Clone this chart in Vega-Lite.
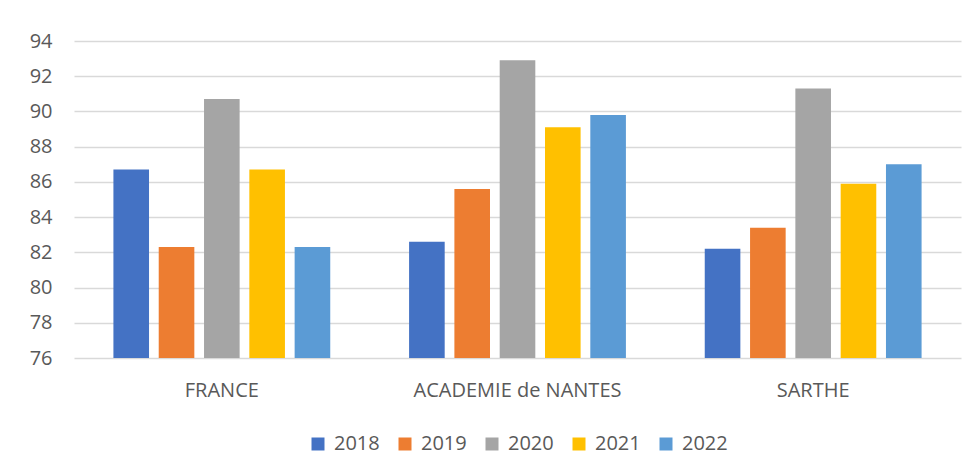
{
  "$schema": "https://vega.github.io/schema/vega-lite/v6.json",
  "width": 887,
  "height": 317,
  "autosize": {"type": "none"},
  "padding": {"left": 74, "top": 41, "right": 15, "bottom": 115},
  "background": "white",
  "data": {
    "values": [
      {"region": "FRANCE", "year": "2018", "value": 86.7},
      {"region": "FRANCE", "year": "2019", "value": 82.3},
      {"region": "FRANCE", "year": "2020", "value": 90.7},
      {"region": "FRANCE", "year": "2021", "value": 86.7},
      {"region": "FRANCE", "year": "2022", "value": 82.3},
      {"region": "ACADEMIE de NANTES", "year": "2018", "value": 82.6},
      {"region": "ACADEMIE de NANTES", "year": "2019", "value": 85.6},
      {"region": "ACADEMIE de NANTES", "year": "2020", "value": 92.9},
      {"region": "ACADEMIE de NANTES", "year": "2021", "value": 89.1},
      {"region": "ACADEMIE de NANTES", "year": "2022", "value": 89.8},
      {"region": "SARTHE", "year": "2018", "value": 82.2},
      {"region": "SARTHE", "year": "2019", "value": 83.4},
      {"region": "SARTHE", "year": "2020", "value": 91.3},
      {"region": "SARTHE", "year": "2021", "value": 85.9},
      {"region": "SARTHE", "year": "2022", "value": 87.0}
    ]
  },
  "mark": {"type": "bar"},
  "encoding": {
    "x": {
      "field": "region",
      "type": "nominal",
      "sort": ["FRANCE", "ACADEMIE de NANTES", "SARTHE"],
      "scale": {"paddingInner": 0, "paddingOuter": 0},
      "axis": {
        "title": null,
        "labelAngle": 0,
        "domain": false,
        "ticks": false,
        "labelPadding": 22,
        "labelLimit": 0,
        "labelFont": "Open Sans",
        "labelFontSize": 20,
        "labelColor": "#595959"
      }
    },
    "xOffset": {
      "field": "year",
      "type": "nominal",
      "scale": {"paddingInner": 0.214, "paddingOuter": 0.87}
    },
    "y": {
      "field": "value",
      "type": "quantitative",
      "scale": {"domain": [76, 94], "zero": false, "nice": false},
      "axis": {
        "title": null,
        "values": [76, 78, 80, 82, 84, 86, 88, 90, 92, 94],
        "domain": false,
        "ticks": false,
        "grid": true,
        "gridColor": "#d9d9d9",
        "gridWidth": 1.3,
        "labelPadding": 22,
        "labelFont": "Open Sans",
        "labelFontSize": 20,
        "labelColor": "#595959"
      }
    },
    "y2": {"datum": 76},
    "color": {
      "field": "year",
      "type": "nominal",
      "scale": {
        "domain": ["2018", "2019", "2020", "2021", "2022"],
        "range": ["#4472C4", "#ED7D31", "#A5A5A5", "#FFC000", "#5B9BD5"]
      },
      "legend": {
        "title": null,
        "orient": "bottom",
        "direction": "horizontal",
        "symbolType": "square",
        "symbolSize": 169,
        "symbolStrokeWidth": 0,
        "labelFont": "Open Sans",
        "labelFontSize": 20,
        "labelColor": "#595959",
        "labelOffset": 6,
        "columnPadding": 15,
        "offset": 34
      }
    }
  },
  "config": {
    "view": {"stroke": null},
    "legend": {"layout": {"bottom": {"anchor": "middle"}}}
  }
}
